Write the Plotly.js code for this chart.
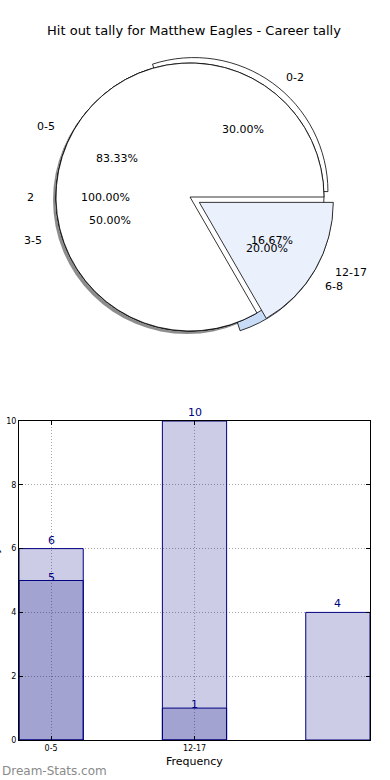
<!DOCTYPE html>
<html>
<head>
<meta charset="utf-8">
<script src="https://cdn.plot.ly/plotly-3.0.1.min.js"></script>
<style>html,body{margin:0;padding:0;background:#fff;}#chart{width:390px;height:780px;}</style>
</head>
<body>
<div id="chart"></div>
<script>
// ---- data ----
const chartTitle = 'Hit out tally for Matthew Eagles - Career tally';
const pieALabels = ['0-5', '12-17'];
const pieAValues = [5, 1];
const pieBLabels = ['2'];
const pieBValues = [1];
const pieCLabels = ['0-2', '3-5', '6-8'];
const pieCValues = [6, 10, 4];
const barTickLabels = ['0-5', '12-17'];
const barLightValues = [6, 10, 4];
const barDarkValues = [5, 1];
const xAxisTitle = 'Frequency';
const yAxisTitle = 'Hit out Tally';
const watermark = 'Dream-Stats.com';

// ---- layout constants ----
const W = 390, H = 780;
const CX = 190, CY = 197, R = 134;   // pie centre / radius (px)
const TX = 140, TY = 128;            // text placement radii (px)
const FONT = 'DejaVu Sans, sans-serif';

function pieDomain(maxPull, dx, dy) {
  const side = 2 * R * (1 + maxPull);
  const cx = CX + (dx || 0), cy = CY + (dy || 0);
  return {
    x: [(cx - side / 2) / W, (cx + side / 2) / W],
    y: [1 - (cy + side / 2) / H, 1 - (cy - side / 2) / H]
  };
}
// slices start at 3 o'clock and run counter-clockwise (matplotlib style):
// Plotly 'clockwise' from 3 o'clock with the slice order reversed gives the same layout.
function pieTrace(labels, values, colors, pulls, lineColor, lineWidth, dx, dy) {
  const rev = a => a.slice().reverse();
  return {
    type: 'pie', labels: rev(labels), values: rev(values), sort: false,
    direction: 'clockwise', rotation: 90,
    textinfo: 'none', hoverinfo: 'skip', showlegend: false,
    pull: rev(pulls),
    marker: {colors: rev(colors), line: {color: lineColor, width: lineWidth}},
    domain: pieDomain(Math.max.apply(null, pulls), dx, dy)
  };
}

const pullC = [0.05, 0, 0.08];
const pullB = [0];
const pullA = [0, 0.08];

const traces = [
  pieTrace(['shadow'], [1], ['rgba(80,80,80,0.65)'], [0], 'rgba(0,0,0,0)', 0, -3, 3),
  pieTrace(pieCLabels, pieCValues, ['#ffffff', '#ffffff', '#c8dbf7'], pullC, '#000', 0.8),
  pieTrace(pieBLabels, pieBValues, ['#ffffff'], pullB, '#000', 0.8),
  pieTrace(pieALabels, pieAValues, ['#ffffff', '#eaf0fc'], pullA, '#000', 0.8)
];

// pie text (labels outside, percentages inside) placed from the data
const annotations = [];
function pieText(labels, values, pulls) {
  const total = values.reduce((a, b) => a + b, 0);
  let cum = 0;
  values.forEach((v, i) => {
    const th = 2 * Math.PI * (cum + v / 2) / total;
    cum += v;
    const c = Math.cos(th), s = Math.sin(th);
    const ox = pulls[i] * R * c, oy = -pulls[i] * R * s;
    const lx = CX + 1.1 * TX * c + ox, ly = CY - 1.1 * TY * s + oy;
    const px = CX + 0.6 * TX * c + ox, py = CY - 0.6 * TY * s + oy;
    annotations.push({
      xref: 'paper', yref: 'paper', x: lx / W, y: 1 - ly / H,
      xanchor: c > 0.001 ? 'left' : 'right', yanchor: 'middle',
      text: labels[i], showarrow: false,
      font: {family: FONT, size: 11, color: '#000'}
    });
    annotations.push({
      xref: 'paper', yref: 'paper', x: px / W, y: 1 - py / H,
      xanchor: 'center', yanchor: 'middle',
      text: (100 * v / total).toFixed(2) + '%', showarrow: false,
      font: {family: FONT, size: 11, color: '#000'}
    });
  });
}
pieText(pieCLabels, pieCValues, pullC);
pieText(pieBLabels, pieBValues, pullB);
pieText(pieALabels, pieAValues, pullA);

// ---- bars ----
const BAR_W = 0.448;
const barFill = 'rgba(0,0,128,0.2)';
traces.push({
  type: 'bar', x: barLightValues.map((_, i) => i), y: barLightValues,
  width: BAR_W, marker: {color: barFill, line: {color: '#000080', width: 1}},
  hoverinfo: 'skip', showlegend: false, xaxis: 'x', yaxis: 'y'
});
traces.push({
  type: 'bar', x: barDarkValues.map((_, i) => i), y: barDarkValues,
  width: BAR_W, marker: {color: barFill, line: {color: '#000080', width: 1}},
  hoverinfo: 'skip', showlegend: false, xaxis: 'x', yaxis: 'y'
});
barLightValues.forEach((v, i) => annotations.push({
  xref: 'x', yref: 'y', x: i, y: v, yanchor: 'bottom', yshift: 0,
  text: String(v), showarrow: false, font: {family: FONT, size: 11, color: '#000080'}
}));
barDarkValues.forEach((v, i) => annotations.push({
  xref: 'x', yref: 'y', x: i, y: v, yanchor: 'bottom', yshift: -5,
  text: String(v), showarrow: false, font: {family: FONT, size: 11, color: '#000080'}
}));

// axis titles / watermark
annotations.push({
  xref: 'paper', yref: 'paper', x: 194 / W, y: 1 - 761 / H,
  xanchor: 'center', yanchor: 'middle', text: xAxisTitle, showarrow: false,
  font: {family: FONT, size: 11, color: '#000'}
});
annotations.push({
  xref: 'paper', yref: 'paper', x: -5 / W, y: 1 - 580 / H,
  xanchor: 'center', yanchor: 'middle', textangle: -90, text: yAxisTitle, showarrow: false,
  font: {family: FONT, size: 11, color: '#000'}
});
annotations.push({
  xref: 'paper', yref: 'paper', x: 0, y: 1 - 771 / H,
  xanchor: 'left', yanchor: 'middle', text: watermark, showarrow: false,
  font: {family: FONT, size: 12, color: '#8a8a8a'}
});

const axisCommon = {
  showline: true, linecolor: '#000', linewidth: 1, mirror: 'ticks',
  ticks: 'inside', ticklen: 4, tickcolor: '#000', tickwidth: 1,
  showgrid: true, gridcolor: '#a8a8a8', griddash: '1px,2px', gridwidth: 1,
  zeroline: false, tickfont: {family: FONT, size: 8, color: '#000'},
  fixedrange: true
};

const layout = {
  width: W, height: H,
  margin: {l: 0, r: 0, t: 0, b: 0},
  paper_bgcolor: '#fff', plot_bgcolor: 'rgba(0,0,0,0)',
  font: {family: FONT},
  barmode: 'overlay',
  title: {text: chartTitle, x: 194 / W, xanchor: 'center', y: 1 - 30 / H, yanchor: 'middle',
          font: {family: FONT, size: 13, color: '#000'}},
  xaxis: Object.assign({}, axisCommon, {
    domain: [19 / W, 370 / W], range: [-BAR_W / 2, 2 + BAR_W / 2],
    tickvals: barTickLabels.map((_, i) => i), ticktext: barTickLabels, anchor: 'y'
  }),
  yaxis: Object.assign({}, axisCommon, {
    domain: [1 - 740 / H, 1 - 421 / H], range: [0, 10], dtick: 2, tick0: 0, anchor: 'x'
  }),
  annotations: annotations
};

Plotly.newPlot('chart', traces, layout, {staticPlot: true, displayModeBar: false});
</script>
</body>
</html>
